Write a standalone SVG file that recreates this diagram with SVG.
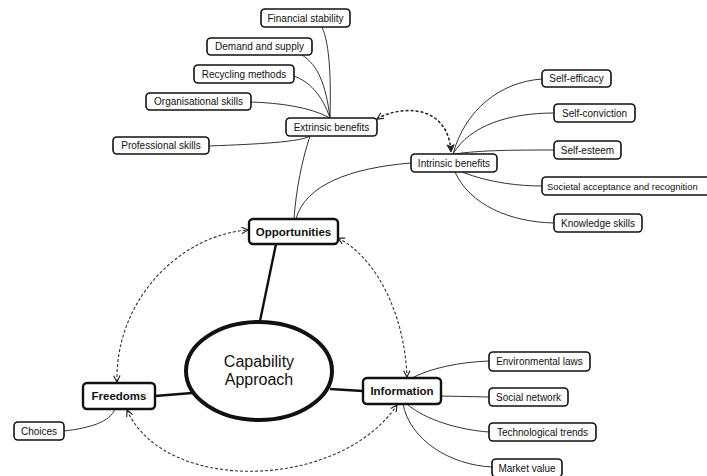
<svg xmlns="http://www.w3.org/2000/svg" width="707" height="476" viewBox="0 0 707 476">
  <style>
    .leaf rect { fill: #fff; stroke: #111; stroke-width: 1.6; }
    .main rect { fill: #fff; stroke: #111; stroke-width: 2.4; }
    .leaf text { font-family: "Liberation Sans", Arial, sans-serif; font-size: 10px; fill: #111; text-anchor: middle; }
    .main text { font-family: "Liberation Sans", Arial, sans-serif; font-size: 11.5px; font-weight: bold; fill: #111; text-anchor: middle; }
    .core text { font-family: "Liberation Sans", Arial, sans-serif; font-size: 16px; fill: #111; text-anchor: middle; }
    .link { fill: none; stroke: #333; stroke-width: 1; }
    .trunk { fill: none; stroke: #111; stroke-width: 2.4; }
    .dash { fill: none; stroke: #333; stroke-width: 1.1; stroke-dasharray: 3 2; marker-start: url(#arr); marker-end: url(#arr); }
    .dash.strong { stroke: #222; stroke-width: 1.5; marker-start: url(#arr); marker-end: url(#arrf); }
  </style>
  <defs>
    <marker id="arr" viewBox="0 0 10 10" refX="9" refY="5" markerWidth="8" markerHeight="8" markerUnits="userSpaceOnUse" orient="auto-start-reverse">
      <path d="M1,1 L9,5 L1,9" fill="none" stroke="#222" stroke-width="1.4"/>
    </marker>
    <marker id="arrf" viewBox="0 0 10 10" refX="9" refY="5" markerWidth="9" markerHeight="9" markerUnits="userSpaceOnUse" orient="auto-start-reverse">
      <path d="M1,1 L9,5 L1,9 L3,5 Z" fill="#222" stroke="#222" stroke-width="1"/>
    </marker>
  </defs>

  <rect width="707" height="476" fill="#fff"/>

  <g id="connectors">
    <!-- extrinsic benefits branch -->
    <path class="link" d="M330,118 C331,80 330,45 322,27"/>
    <path class="link" d="M330,118 C326,85 318,65 302,55"/>
    <path class="link" d="M330,118 C322,95 310,82 294,76"/>
    <path class="link" d="M330,118 C310,107 280,103 251,102"/>
    <path class="link" d="M310,136 C300,142 260,144 209,146"/>
    <path class="link" d="M310,136 C302,160 296,190 294,219"/>
    <!-- intrinsic benefits branch -->
    <path class="link" d="M411,163 C350,168 305,185 296,219"/>
    <path class="link" d="M453,154 C465,110 500,82 542,79"/>
    <path class="link" d="M453,154 C470,125 510,113 554,113"/>
    <path class="link" d="M455,154 C480,150 520,150 554,150"/>
    <path class="link" d="M462,172 C490,183 520,186 542,186"/>
    <path class="link" d="M455,172 C470,205 510,222 554,223"/>
    <!-- information branch -->
    <path class="link" d="M410,379 C430,368 460,362 489,361"/>
    <path class="link" d="M441,396 L489,397"/>
    <path class="link" d="M407,404 C425,420 460,430 489,432"/>
    <path class="link" d="M403,404 C410,440 450,465 492,467"/>
    <!-- freedoms branch -->
    <path class="link" d="M64,431 C90,428 110,422 115,409"/>
    <!-- core trunks -->
    <path class="trunk" d="M276,244 L260,321"/>
    <path class="trunk" d="M155,396 L192,393"/>
    <path class="trunk" d="M330,389 L363,391"/>
    <!-- two-way relations -->
    <path class="dash strong" d="M377,119 C398,106 448,102 451,152"/>
    <path class="dash" d="M117,382 C115,300 180,235 248,230"/>
    <path class="dash" d="M338,238 C380,260 405,320 407,377"/>
    <path class="dash" d="M127,410 C165,495 340,490 397,405"/>
  </g>

  <g id="core" class="core">
    <ellipse cx="259" cy="371" rx="73" ry="49" fill="#fff" stroke="#111" stroke-width="4"/>
    <text x="259" y="367">Capability</text>
    <text x="259" y="385">Approach</text>
  </g>

  <g id="opportunities" class="main">
    <rect x="249" y="219" width="89" height="25" rx="4"/>
    <text x="293.5" y="235.5">Opportunities</text>
  </g>
  <g id="freedoms" class="main">
    <rect x="83" y="383" width="72" height="26" rx="4"/>
    <text x="119" y="400">Freedoms</text>
  </g>
  <g id="information" class="main">
    <rect x="363" y="378" width="78" height="26" rx="4"/>
    <text x="402" y="395">Information</text>
  </g>

  <g id="extrinsic-benefits" class="leaf">
    <rect x="286" y="118" width="91" height="18" rx="4"/>
    <text x="331.5" y="130.5">Extrinsic benefits</text>
  </g>
  <g id="intrinsic-benefits" class="leaf">
    <rect x="411" y="154" width="86" height="18" rx="4"/>
    <text x="454" y="166.5">Intrinsic benefits</text>
  </g>

  <g id="financial-stability" class="leaf">
    <rect x="261" y="9" width="89" height="18" rx="4"/>
    <text x="305.5" y="21.5">Financial stability</text>
  </g>
  <g id="demand-supply" class="leaf">
    <rect x="207" y="38" width="105" height="17" rx="4"/>
    <text x="259.5" y="50">Demand and supply</text>
  </g>
  <g id="recycling-methods" class="leaf">
    <rect x="194" y="65" width="100" height="18" rx="4"/>
    <text x="244" y="77.5">Recycling methods</text>
  </g>
  <g id="organisational-skills" class="leaf">
    <rect x="146" y="93" width="105" height="17" rx="4"/>
    <text x="198.5" y="105">Organisational skills</text>
  </g>
  <g id="professional-skills" class="leaf">
    <rect x="113" y="137" width="96" height="17" rx="4"/>
    <text x="161" y="149">Professional skills</text>
  </g>

  <g id="self-efficacy" class="leaf">
    <rect x="542" y="70" width="69" height="17" rx="4"/>
    <text x="576.5" y="82">Self-efficacy</text>
  </g>
  <g id="self-conviction" class="leaf">
    <rect x="554" y="104" width="81" height="18" rx="4"/>
    <text x="594.5" y="116.5">Self-conviction</text>
  </g>
  <g id="self-esteem" class="leaf">
    <rect x="554" y="141" width="67" height="18" rx="4"/>
    <text x="587.5" y="153.5">Self-esteem</text>
  </g>
  <g id="societal-acceptance" class="leaf">
    <rect x="542" y="177" width="180" height="18" rx="4"/>
    <text x="547" y="189.5" style="text-anchor:start; font-size:9.4px">Societal acceptance and recognition</text>
  </g>
  <g id="knowledge-skills" class="leaf">
    <rect x="554" y="214" width="88" height="18" rx="4"/>
    <text x="598" y="226.5">Knowledge skills</text>
  </g>

  <g id="environmental-laws" class="leaf">
    <rect x="489" y="352" width="101" height="19" rx="4"/>
    <text x="539.5" y="365">Environmental laws</text>
  </g>
  <g id="social-network" class="leaf">
    <rect x="489" y="388" width="79" height="18" rx="4"/>
    <text x="528.5" y="400.5">Social network</text>
  </g>
  <g id="technological-trends" class="leaf">
    <rect x="489" y="423" width="107" height="18" rx="4"/>
    <text x="542.5" y="435.5">Technological trends</text>
  </g>
  <g id="market-value" class="leaf">
    <rect x="492" y="459" width="70" height="18" rx="4"/>
    <text x="527" y="471.5">Market value</text>
  </g>

  <g id="choices" class="leaf">
    <rect x="14" y="422" width="50" height="18" rx="4"/>
    <text x="39" y="434.5">Choices</text>
  </g>
</svg>
